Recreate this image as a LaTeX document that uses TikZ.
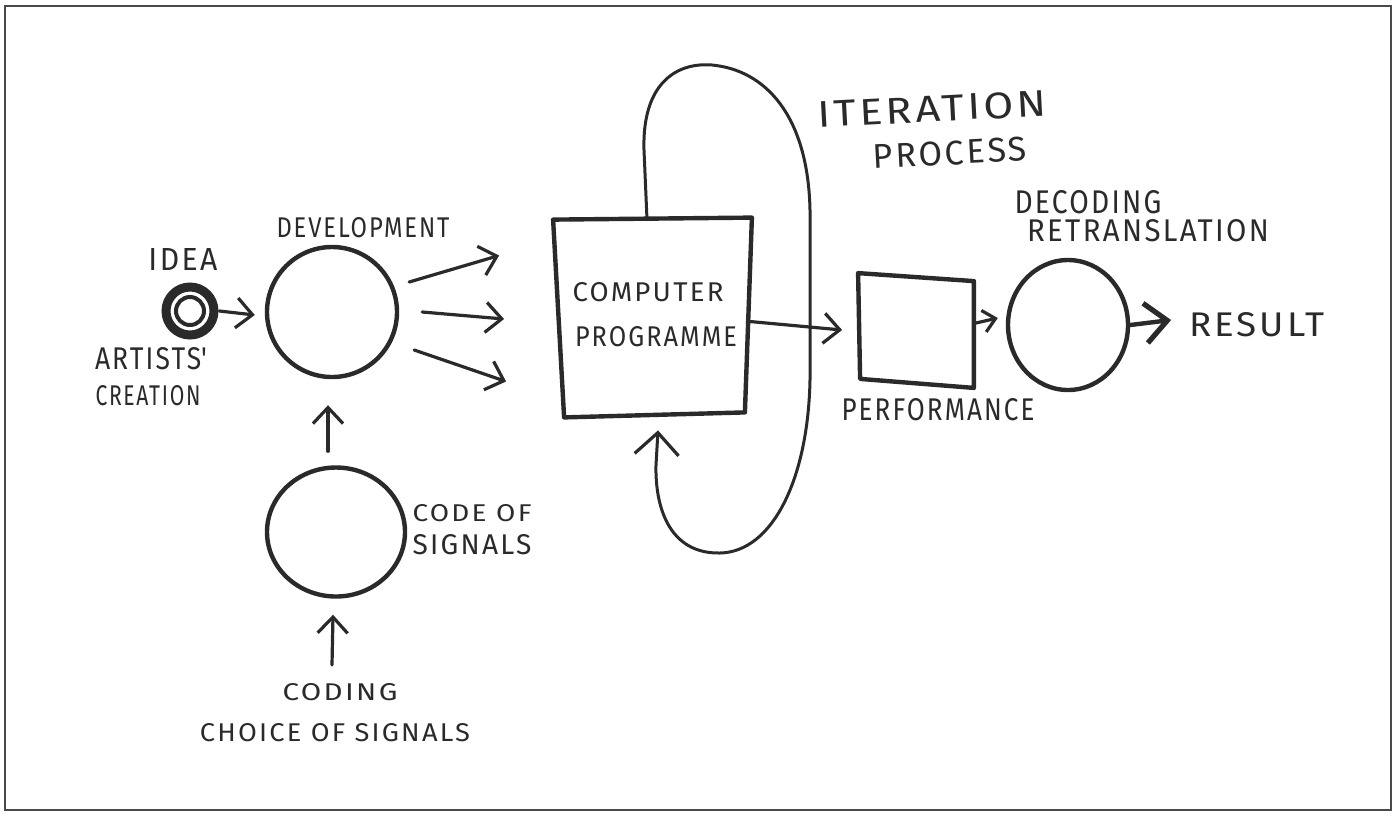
\documentclass[tikz,border=0pt]{standalone}
\usepackage{fontspec}
\setmainfont{Fira Sans}
\usetikzlibrary{arrows.meta,calc,shapes.geometric}

\definecolor{inkc}{HTML}{2A2A2A}
\definecolor{framec}{HTML}{4A4A4A}

% one drawing unit = half a point; labels are scaled to a width and height in those units
\newdimen\pxu \pxu=0.5pt
\newcommand\hw[3]{\resizebox{#1\pxu}{#2\pxu}{#3}}

\tikzset{
  bubble/.style={ellipse, draw=inkc, line width=2.2pt, inner sep=0pt},
  panel/.style={rectangle, inner sep=0pt},
  outline/.style={draw=inkc, line width=2.2pt, line join=round},
  flow/.style={draw=inkc, line width=1.6pt, line cap=round,
    -{Straight Barb[length=8pt,width=15pt,line width=1.6pt]}},
  bigflow/.style={flow, -{Straight Barb[length=11pt,width=22pt,line width=1.6pt]}},
  lbl/.style={inner sep=0pt, text=inkc, font=\addfontfeatures{LetterSpace=8}},
  frameline/.style={draw=framec, line width=1.2pt},
}

\begin{document}
\begin{tikzpicture}[x=0.5pt,y=-0.5pt]
\useasboundingbox (0,0) rectangle (1397,816);
\draw[frameline] (5,6) rectangle (1391,810);

% idea: a heavy double ring
\node[circle, minimum size=29pt, inner sep=0pt] (idea) at (190,311) {};
\draw[inkc, line width=4.5pt] (idea.center) circle[radius=24];
\draw[inkc, line width=2pt] (idea.center) circle[radius=14];

% stages
\node[bubble, minimum width=65pt, minimum height=65pt] (dev) at (332,312) {};
\node[bubble, minimum width=69pt, minimum height=64.5pt] (code) at (336,532) {};
\node[panel, minimum width=97.5pt, minimum height=97.5pt] (cp) at (652,317.5) {};
\node[panel, minimum width=57.5pt, minimum height=53.5pt] (perf) at (916,330) {};
\node[bubble, minimum width=60pt, minimum height=65pt] (dec) at (1068,325) {};

% slightly skewed, freehand box outlines
\draw[outline] ([shift={(-1,0)}]cp.north west) -- ([shift={(2,-2)}]cp.north east)
  -- ([shift={(-5,-3)}]cp.south east) -- ([shift={(10,2)}]cp.south west) -- cycle;
\draw[outline] ([shift={(0,-3)}]perf.north west) -- ([shift={(0,5)}]perf.north east)
  -- ([shift={(0,4)}]perf.south east) -- ([shift={(2,-5)}]perf.south west) -- cycle;

% labels
\node[lbl] (ideaL) at (183,259) {\hw{69}{22}{IDEA}};
\node[lbl] (devL) at (363,228) {\hw{173}{20}{DEVELOPMENT}};
\node[lbl] (artL) at (151,359) {\hw{112}{22}{ARTISTS\textquotesingle}};
\node[lbl] (creL) at (148,396) {\hw{105}{20}{CREATION}};
\node[lbl] (codeLa) at (472,513) {\hw{119}{17}{CODE OF}};
\node[lbl] (codeLb) at (472,545) {\hw{119}{20}{SIGNALS}};
\node[lbl] (coding) at (340,692) {\hw{115}{17}{CODING}};
\node[lbl] (choice) at (335,733) {\hw{270}{18}{CHOICE OF SIGNALS}};
\node[lbl] (cpLa) at (648,292) {\hw{151}{19}{COMPUTER}};
\node[lbl] (cpLb) at (656,337) {\hw{162}{20}{PROGRAMME}};
\node[lbl] (perfL) at (938,410) {\hw{193}{22}{PERFORMANCE}};
\node[lbl] (decLa) at (1088,202) {\hw{147}{23}{DECODING}};
\node[lbl] (decLb) at (1148,231) {\hw{242}{22}{RETRANSLATION}};
\node[lbl] (result) at (1257,325) {\hw{135}{24}{RESULT}};
\node[lbl, rotate=3] (iterLa) at (932,109) {\hw{229}{26}{ITERATION}};
\node[lbl, rotate=3] (iterLb) at (950,153) {\hw{154}{24}{PROCESS}};

% connectors
\draw[flow] (idea.east) -- ([shift={(-10,3)}]dev.west);
\draw[flow] ([shift={(-8,-14)}]code.north) -- ([shift={(-4,26)}]dev.south);
\draw[flow] ([shift={(-8,-18)}]coding.north) -- ([shift={(-3,16)}]code.south);

\draw[flow] ([shift={(10,-30)}]dev.east) -- ([shift={(-55,-62)}]cp.west);
\draw[flow] ([shift={(23,0)}]dev.east) -- ([shift={(-50,1.5)}]cp.west);
\draw[flow] ([shift={(15,38)}]dev.east) -- ([shift={(-48,64)}]cp.west);

% iteration loop over the programme box
\coordinate (ls) at ([shift={(-5,0)}]cp.north);
\coordinate (le) at ([shift={(6,15)}]cp.south);
\draw[bigflow, line width=1.5pt] (ls) -- (644,150)
  .. controls (642,85) and (675,62) .. (712,65)
  .. controls (765,70) and (808,115) .. (810,210)
  -- (810,380)
  .. controls (808,480) and (772,552) .. (720,553)
  .. controls (668,554) and (655,505) .. (656,465)
  -- (le);

\draw[flow] ([shift={(0,4)}]cp.east) -- ([shift={(-16,0)}]perf.west);
\draw[flow, -{Straight Barb[length=6pt,width=11pt,line width=1.6pt]}]
  ([shift={(2,-7)}]perf.east) -- ([shift={(-8,-7)}]dec.west);
\draw[flow, line width=2.2pt, -{Straight Barb[length=11pt,width=20pt,line width=2.6pt]}]
  (dec.east) -- ([shift={(-18,-5)}]result.west);
\end{tikzpicture}
\end{document}
